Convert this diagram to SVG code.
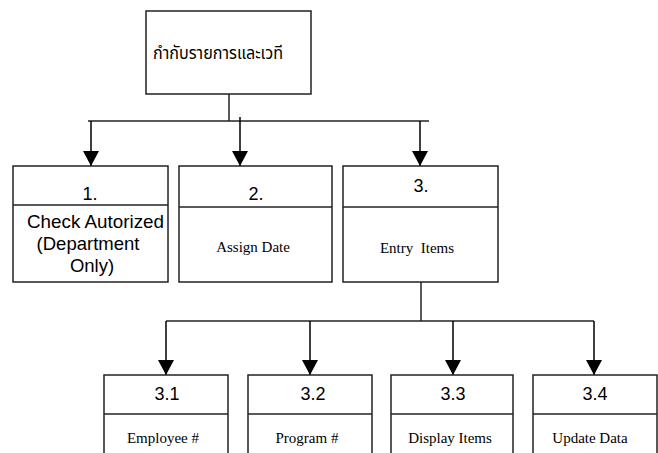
<svg xmlns="http://www.w3.org/2000/svg" width="658" height="453" viewBox="0 0 658 453">
<defs>
<marker id="ah" markerUnits="userSpaceOnUse" markerWidth="16" markerHeight="18" refX="15" refY="8" orient="auto">
<path d="M0,0 L15,8 L0,16 Z" fill="#000"/>
</marker>
<style>
.box{fill:#fff;stroke:#222;stroke-width:1.5}
.div{stroke:#222;stroke-width:1.5}
.con{stroke:#222;stroke-width:1.5;fill:none}
.arr{stroke:#000;stroke-width:1.5;fill:none;marker-end:url(#ah)}
.num{font-family:"Liberation Sans",Arial,sans-serif;font-size:18px;fill:#000;text-anchor:middle}
.big{font-family:"Liberation Sans",Arial,sans-serif;font-size:18.5px;fill:#000}
.lab{font-family:"Liberation Serif","Times New Roman",serif;font-size:15px;fill:#000;text-anchor:middle}
.thai{font-family:"Noto Sans Thai","Tahoma","DejaVu Sans",sans-serif;font-size:17px;fill:#000}
</style>
</defs>
<rect width="658" height="453" fill="#fff"/>
<g id="connectors">
<line class="con" x1="229" y1="94" x2="229" y2="121"/>
<line class="con" x1="88" y1="121" x2="429" y2="121"/>
<line class="arr" x1="91" y1="121" x2="91" y2="166"/>
<line class="arr" x1="240" y1="117" x2="240" y2="166"/>
<line class="arr" x1="420" y1="121" x2="420" y2="166"/>
<line class="con" x1="421" y1="282" x2="421" y2="321"/>
<line class="con" x1="166" y1="321" x2="594" y2="321"/>
<line class="arr" x1="166" y1="321" x2="166" y2="375"/>
<line class="arr" x1="310" y1="321" x2="310" y2="375"/>
<line class="arr" x1="453" y1="321" x2="453" y2="375"/>
<line class="arr" x1="594" y1="321" x2="594" y2="375"/>
</g>
<g id="root">
<rect class="box" x="146" y="11" width="165" height="83"/>
<text class="thai" x="153" y="59" textLength="130" lengthAdjust="spacingAndGlyphs">กำกับรายการและเวที</text>
</g>
<g id="n1">
<rect class="box" x="13" y="166" width="155" height="116"/>
<line class="div" x1="13" y1="205" x2="168" y2="205"/>
<text class="num" x="90" y="200">1.</text>
<text class="big" x="27" y="228" textLength="137" lengthAdjust="spacingAndGlyphs">Check Autorized</text>
<text class="big" x="88" y="250" text-anchor="middle">(Department</text>
<text class="big" x="92" y="272" text-anchor="middle">Only)</text>
</g>
<g id="n2">
<rect class="box" x="179" y="166" width="153" height="116"/>
<line class="div" x1="179" y1="207" x2="332" y2="207"/>
<text class="num" x="256" y="200">2.</text>
<text class="lab" x="253" y="252">Assign Date</text>
</g>
<g id="n3">
<rect class="box" x="343" y="166" width="155" height="116"/>
<line class="div" x1="343" y1="207" x2="498" y2="207"/>
<text class="num" x="421" y="192">3.</text>
<text class="lab" x="417" y="253" xml:space="preserve">Entry  Items</text>
</g>
<g id="n31">
<rect class="box" x="104" y="375" width="124" height="90"/>
<line class="div" x1="104" y1="414" x2="228" y2="414"/>
<text class="num" x="167" y="400">3.1</text>
<text class="lab" x="163" y="443">Employee #</text>
</g>
<g id="n32">
<rect class="box" x="248" y="375" width="124" height="90"/>
<line class="div" x1="248" y1="414" x2="372" y2="414"/>
<text class="num" x="313" y="400">3.2</text>
<text class="lab" x="307" y="443">Program #</text>
</g>
<g id="n33">
<rect class="box" x="391" y="375" width="122" height="90"/>
<line class="div" x1="391" y1="414" x2="513" y2="414"/>
<text class="num" x="453" y="400">3.3</text>
<text class="lab" x="450" y="443">Display Items</text>
</g>
<g id="n34">
<rect class="box" x="533" y="375" width="124" height="90"/>
<line class="div" x1="533" y1="414" x2="657" y2="414"/>
<text class="num" x="595" y="400">3.4</text>
<text class="lab" x="590" y="443">Update Data</text>
</g>
</svg>
